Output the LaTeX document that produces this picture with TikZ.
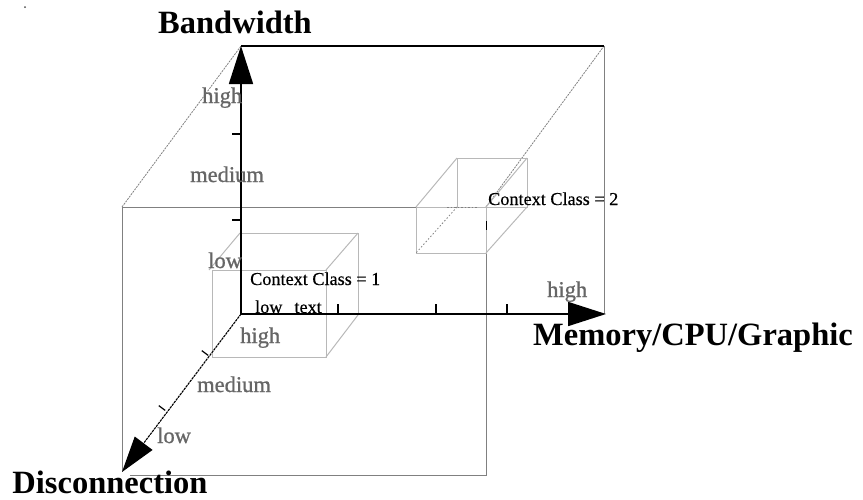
\documentclass[tikz,border=0pt]{standalone}
\usepackage{fontspec}
\setmainfont{Liberation Serif}
\newfontfamily\levelfont[FakeBold=0.9]{Liberation Serif}
\newfontfamily\classfont[FakeBold=0.4]{Liberation Serif}
\usetikzlibrary{arrows.meta}
\definecolor{framegray}{gray}{0.5}
\definecolor{boxgray}{gray}{0.72}
\definecolor{labelgray}{gray}{0.4}
\begin{document}
\begin{tikzpicture}[x=1pt,y=-1pt,
  axisline/.style={line width=1.7pt, -{Triangle[length=38pt,width=24pt]}},
  depthline/.style={line width=1.1pt, dash pattern=on 2.5pt off 0.8pt, -{Triangle[length=36pt,width=22pt]}},
  frame/.style={draw=framegray, line width=0.9pt},
  hidden/.style={draw=framegray, line width=0.8pt, dash pattern=on 2pt off 1pt},
  cubeedge/.style={draw=boxgray, line width=1pt},
  cubehidden/.style={draw=gray, line width=0.8pt, dash pattern=on 1.5pt off 2pt},
  tickmark/.style={line width=1.2pt},
  axistitle/.style={inner sep=0pt, anchor=base, font=\fontsize{32.5}{36}\selectfont\bfseries},
  levellabel/.style={inner sep=0pt, anchor=base west, text=labelgray, font=\fontsize{22.5}{26}\levelfont},
  classlabel/.style={inner sep=0pt, anchor=base west, font=\fontsize{18.2}{21}\classfont}]
\useasboundingbox (0,0) rectangle (863,499);

% corners of the outer cube
\coordinate (O)   at (241,314);
\coordinate (BTL) at (241,46);
\coordinate (BTR) at (604,46);
\coordinate (BBR) at (604,314);
\coordinate (FTL) at (122,207);
\coordinate (FTR) at (486,207);
\coordinate (FBR) at (486,475);
\coordinate (FBL) at (122,472);
\coordinate (Xend) at (606,314);

% corners of the first class box
\coordinate (aBTL) at (240,233);
\coordinate (aBTR) at (358,233);
\coordinate (aBBR) at (358,315);
\coordinate (aBBL) at (240,315);
\coordinate (aFTL) at (209,270);
\coordinate (aFTR) at (326,270);
\coordinate (aFBR) at (326,357);
\coordinate (aFBL) at (212,357);
\coordinate (aFL)  at (212,270);

% corners of the second class box
\coordinate (bBTL) at (457,158);
\coordinate (bBTR) at (527,158);
\coordinate (bBBR) at (527,207);
\coordinate (bBBL) at (457,207);
\coordinate (bFTL) at (416,207);
\coordinate (bFTR) at (486,207);
\coordinate (bFBR) at (486,253);
\coordinate (bFBL) at (416,253);

% stray dot
\fill[black!70] (25,7) circle (1pt);

% outer cube: front face, right edge, receding edges
\draw[frame] (FTL) -- (FTR) -- (FBR) -- (130,475);
\draw[frame] (FTL) -- (FBL);
\draw[frame] (BTR) -- (BBR);
\draw[hidden] (FTL) -- (BTL);
\draw[hidden] (FTR) -- (BTR);

% first class box
\draw[cubeedge] (aBTL) -- (aBTR) -- (aBBR);
\draw[cubeedge] (aBTL) -- (aBBL);
\draw[cubeedge] (aFL) -- (aFTR) -- (aFBR) -- (aFBL) -- cycle;
\draw[cubeedge] (aBTL) -- (aFTL);
\draw[cubeedge] (aBTR) -- (aFTR);
\draw[cubeedge] (aBBR) -- (aFBR);

% second class box
\draw[cubeedge] (bBTL) rectangle (bBBR);
\draw[cubeedge] (bFTL) rectangle (bFBR);
\draw[cubeedge] (bBTL) -- (bFTL);
\draw[cubeedge] (bBTR) -- (bFTR);
\draw[cubeedge] (bBBR) -- (bFBR);
\draw[cubehidden] (bBBL) -- (bFBL);
\draw[cubehidden] (447,207) -- (478,207);
\draw[line width=1pt] (486,221) -- (486,230);

% back top edge
\draw[line width=1.2pt] (BTL) -- (BTR);

% axes
\draw[axisline] (O) -- (BTL);
\draw[axisline] (O) -- (Xend);
\draw[depthline] (O) -- (FBL);

% ticks on the axes
\draw[tickmark] (241,134) -- (232,134);
\draw[tickmark] (241,220) -- (232,220);
\draw[tickmark] (338,314) -- (338,304);
\draw[tickmark] (436,314) -- (436,304);
\draw[tickmark] (507,314) -- (507,304);
\draw[tickmark] (208.2,355.4) -- (201.8,350.6);
\draw[tickmark] (165.2,410.4) -- (158.8,405.6);

% axis titles
\node[axistitle] (tBw)  at (235,33)  {Bandwidth};
\node[axistitle] (tMem) at (693,345) {Memory/CPU/Graphic};
\node[axistitle] (tDis) at (110,493) {Disconnection};

% level labels
\node[levellabel] (vHigh) at (202,103) {high};
\node[levellabel] (vMed)  at (190,182) {medium};
\node[levellabel] (vLow)  at (208,268) {low};
\node[levellabel] (hHigh) at (547,297) {high};
\node[levellabel] (dHigh) at (240,343) {high};
\node[levellabel] (dMed)  at (197,392) {medium};
\node[levellabel] (dLow)  at (157,443) {low};

% class labels
\node[classlabel] (c1)  at (250,285) {Context Class = 1};
\node[classlabel] (c1t) at (255,313) {low\hspace{12pt}text};
\node[classlabel] (c2)  at (488,205) {Context Class = 2};
\end{tikzpicture}
\end{document}
